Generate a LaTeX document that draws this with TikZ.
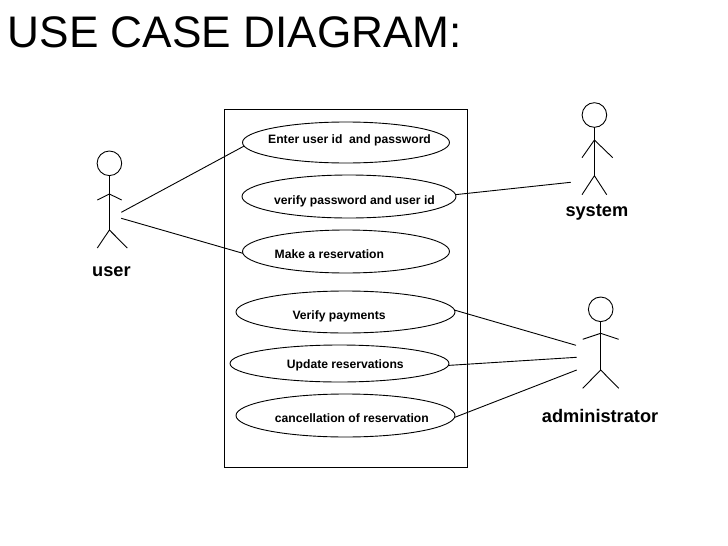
\documentclass[tikz,border=0pt]{standalone}
\usepackage{fontspec}
\setmainfont{Liberation Sans}
\usetikzlibrary{shapes.geometric}
\tikzset{
  px/.style={x=1pt,y=-1pt},
  usecase/.style={draw,ellipse,inner sep=0pt,outer sep=0pt,line width=0.9pt},
  uclabel/.style={anchor=base west,inner sep=0pt,font=\fontsize{12.15}{14}\bfseries},
  actorlabel/.style={anchor=base west,inner sep=0pt,font=\fontsize{18.2}{20}\bfseries},
  head/.style={draw,circle,minimum size=24.6pt,inner sep=0pt,outer sep=0pt,line width=0.9pt},
  limb/.style={line width=0.9pt},
  link/.style={line width=0.9pt},
}
\begin{document}
\begin{tikzpicture}[px]
\useasboundingbox (0,0) rectangle (728,546);
\fill[white] (0,0) rectangle (728,546);
\node[anchor=base west,inner sep=0pt,font=\fontsize{44.2}{48}\selectfont] (title) at (7.5,47.7) {USE CASE DIAGRAM:};
\draw[line width=0.9pt] (224.5,109.5) rectangle (467.5,467);

\node[usecase,minimum width=207pt,minimum height=41pt] (E1) at (346,142.5) {};
\node[usecase,minimum width=214pt,minimum height=43pt] (E2) at (349,196.5) {};
\node[usecase,minimum width=207pt,minimum height=43pt] (E3) at (346,251.5) {};
\node[usecase,minimum width=219pt,minimum height=42pt] (E4) at (345.5,312) {};
\node[usecase,minimum width=219pt,minimum height=37pt] (E5) at (339.5,363.5) {};
\node[usecase,minimum width=219pt,minimum height=43pt] (E6) at (345.5,415.5) {};

\node[uclabel] (T1) at (268,143) {Enter user id\ \ and password};
\node[uclabel] (T2) at (274,204) {verify password and user id};
\node[uclabel] (T3) at (274.5,258.7) {Make a reservation};
\node[uclabel] (T4) at (292.3,319.3) {Verify payments};
\node[uclabel] (T5) at (286.7,368.3) {Update reservations};
\node[uclabel] (T6) at (274.7,422) {cancellation of reservation};

% user actor
\node[head] (uh) at (109.4,163.3) {};
\coordinate (us) at (109.4,194);
\coordinate (uc) at (109.4,230);
\draw[limb] (uh.south) -- (uc);
\draw[limb] (97.3,200) -- (us) -- (121.7,200);
\draw[limb] (97.3,248) -- (uc) -- (127.3,248);
\node[actorlabel] (ul) at (92,276.7) {user};

% system actor
\node[head] (sh) at (594.4,115) {};
\coordinate (ss) at (594.4,140);
\coordinate (sc) at (594.4,175.7);
\draw[limb] (sh.south) -- (sc);
\draw[limb] (582,157.7) -- (ss) -- (612.7,157.7);
\draw[limb] (582,194.7) -- (sc) -- (606.7,194.7);
\node[actorlabel] (sl) at (565.3,216) {system};

% administrator actor
\node[head] (ah) at (600.7,309.3) {};
\coordinate (as) at (600.7,333.3);
\coordinate (ac) at (600.7,370);
\draw[limb] (ah.south) -- (ac);
\draw[limb] (582.7,339.3) -- (as) -- (618.7,339.3);
\draw[limb] (582.7,388.3) -- (ac) -- (618.7,388.3);
\node[actorlabel] (al) at (541.7,422.3) {administrator};

% free ends of connectors
\coordinate (u1) at (121.3,212.3);
\coordinate (u2) at (121.3,218.3);
\coordinate (s1) at (570.7,182.3);
\coordinate (a1) at (576,345.3);
\coordinate (a2) at (576.7,357.3);
\coordinate (a3) at (576.7,370);

\draw[link] (u1) -- (E1.182);
\draw[link] (u2) -- (E3.181.5);
\draw[link] (E2.1.2) -- (s1);
\draw[link] (E4.1) -- (a1);
\draw[link] (E5.359.6) -- (a2);
\draw[link] (E6.359) -- (a3);
\end{tikzpicture}
\end{document}
